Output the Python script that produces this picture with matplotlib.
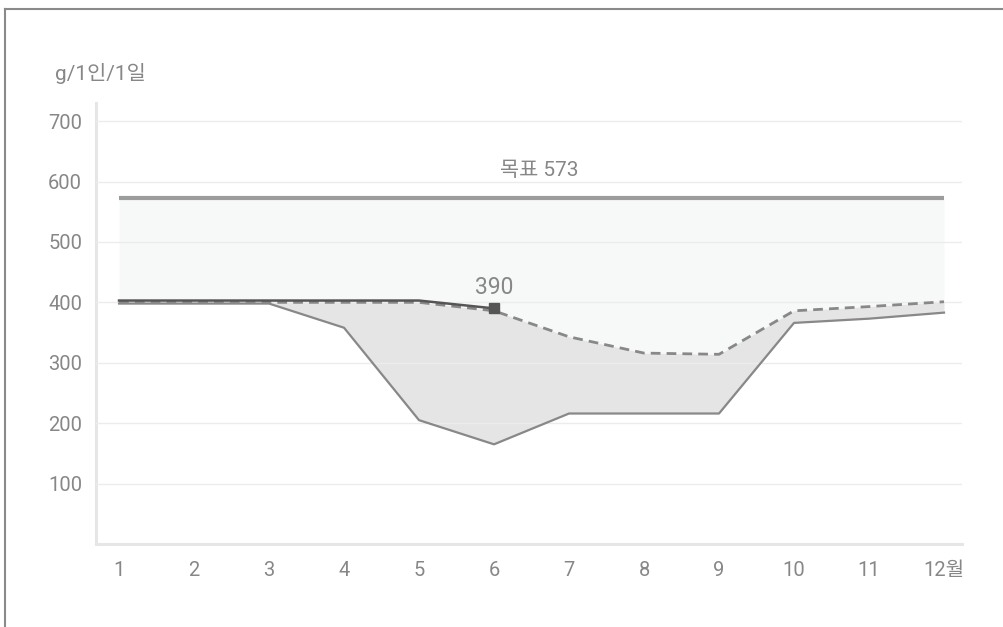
import numpy as np
import matplotlib.pyplot as plt
from matplotlib.lines import Line2D

plt.rcParams['font.family'] = ['Roboto', 'Noto Sans CJK KR', 'DejaVu Sans']

months = np.arange(1, 13)
month_labels = ['1', '2', '3', '4', '5', '6', '7', '8', '9', '10', '11', '12월']
target = 573

# 올해 (6월까지), 전년, 최저
this_year = [403, 403, 403, 403, 403, 390]
last_year = [400, 400, 400, 400, 400, 386, 343, 316, 314, 386, 393, 401]
lowest = [398, 398, 398, 358, 205, 165, 216, 216, 216, 366, 373, 383]
y_ticks = [100, 200, 300, 400, 500, 600, 700]

txt = '#878787'

fig = plt.figure(figsize=(10.04, 6.27), dpi=100)
ax = fig.add_axes([96 / 1004, 1 - 544 / 627, (962 - 96) / 1004, (544 - 103) / 627])

# 바깥 테두리 (위, 왼쪽)
fig.add_artist(Line2D([5 / 1004, 1], [1 - 9 / 627, 1 - 9 / 627], color='#8a8a8a', lw=1.5))
fig.add_artist(Line2D([5 / 1004, 5 / 1004], [0, 1 - 9 / 627], color='#8a8a8a', lw=1.5))

ax.fill_between(months, last_year, target, color='#f7f9f8', zorder=0.5, lw=0)
ax.fill_between(months, lowest, last_year, color='#e5e5e5', zorder=2, lw=0)

ax.plot([months[0], months[-1]], [target, target], color='#9c9c9c', lw=3,
        solid_capstyle='butt', zorder=3)
ax.plot(months, lowest, color='#888888', lw=1.6, zorder=3)
ax.plot(months, last_year, color='#888888', lw=2, ls=(0, (3.5, 2.2)), zorder=4)
ax.plot(months[:len(this_year)], this_year, color='#555555', lw=1.8, zorder=5)
ax.plot(months[len(this_year) - 1], this_year[-1], marker='s', ms=7,
        color='#555555', zorder=6)

ax.annotate(str(this_year[-1]), (months[len(this_year) - 1], this_year[-1]),
            xytext=(0, 15), textcoords='offset points', ha='center', va='center',
            fontsize=16.5, color=txt)
ax.annotate('목표 %d' % target, (6.6, target), xytext=(0, 20),
            textcoords='offset points', ha='center', va='center',
            fontsize=15, color=txt)

ax.set_xlim(0.693, 12.24)
ax.set_ylim(0, 730)
ax.set_xticks(months)
ax.set_xticklabels(month_labels)
ax.set_yticks(y_ticks)
ax.tick_params(length=0, labelsize=14.5, labelcolor=txt)
ax.tick_params(axis='y', pad=10)
ax.tick_params(axis='x', pad=12)

ax.grid(axis='y', color='#ececec', lw=1, zorder=1)
ax.set_axisbelow(False)
for s in ['top', 'right']:
    ax.spines[s].set_visible(False)
for s in ['left', 'bottom']:
    ax.spines[s].set_color('#e6e6e6')
    ax.spines[s].set_linewidth(2.2)
    ax.spines[s].set_zorder(0.8)

fig.text(55 / 1004, 1 - 73 / 627, 'g/1인/1일', fontsize=15, color=txt,
         ha='left', va='center')

fig.savefig('out.png', dpi=100, facecolor='white')
